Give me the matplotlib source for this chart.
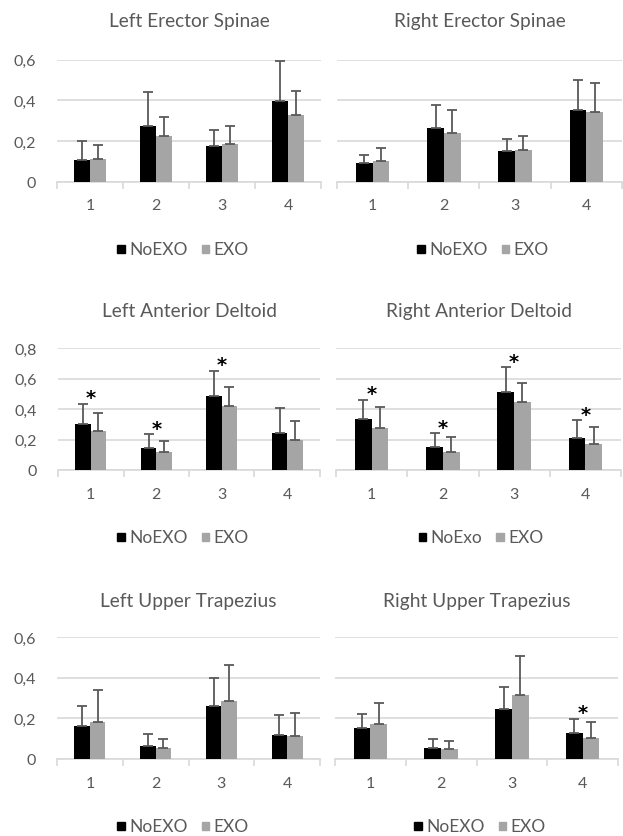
import matplotlib
matplotlib.use("Agg")
import matplotlib.pyplot as plt
from matplotlib.patches import Rectangle
import numpy as np

plt.rcParams['font.family'] = ['Lato', 'DejaVu Sans']

categories = ["1", "2", "3", "4"]

titles = ["Left Erector Spinae", "Right Erector Spinae",
          "Left Anterior Deltoid", "Right Anterior Deltoid",
          "Left Upper Trapezius", "Right Upper Trapezius"]

legend_names = [("NoEXO", "EXO"), ("NoEXO", "EXO"),
                ("NoEXO", "EXO"), ("NoExo", "EXO"),
                ("NoEXO", "EXO"), ("NoEXO", "EXO")]

# mean values per condition
noexo_mean = [
    [0.108, 0.274, 0.174, 0.395],
    [0.090, 0.264, 0.152, 0.354],
    [0.304, 0.144, 0.485, 0.245],
    [0.332, 0.151, 0.509, 0.210],
    [0.164, 0.062, 0.262, 0.118],
    [0.152, 0.052, 0.248, 0.128],
]
exo_mean = [
    [0.113, 0.225, 0.184, 0.330],
    [0.103, 0.239, 0.154, 0.344],
    [0.258, 0.118, 0.420, 0.199],
    [0.278, 0.118, 0.446, 0.173],
    [0.182, 0.052, 0.287, 0.113],
    [0.174, 0.048, 0.313, 0.103],
]
# standard deviations (upper error bars)
noexo_sd = [
    [0.092, 0.167, 0.082, 0.198],
    [0.041, 0.111, 0.058, 0.144],
    [0.129, 0.090, 0.164, 0.164],
    [0.129, 0.089, 0.164, 0.116],
    [0.095, 0.059, 0.138, 0.097],
    [0.071, 0.046, 0.108, 0.070],
]
exo_sd = [
    [0.069, 0.093, 0.091, 0.118],
    [0.063, 0.112, 0.072, 0.141],
    [0.116, 0.072, 0.126, 0.122],
    [0.137, 0.096, 0.122, 0.109],
    [0.157, 0.048, 0.177, 0.112],
    [0.100, 0.041, 0.195, 0.077],
]
# significance markers per category
significant = [
    [0, 0, 0, 0],
    [0, 0, 0, 0],
    [1, 1, 1, 0],
    [1, 1, 1, 1],
    [0, 0, 0, 0],
    [0, 0, 0, 1],
]
y_max = [0.6, 0.6, 0.8, 0.8, 0.6, 0.6]
y_ticks = [[0, 0.2, 0.4, 0.6], [0, 0.2, 0.4, 0.6],
           [0, 0.2, 0.4, 0.6, 0.8], [0, 0.2, 0.4, 0.6, 0.8],
           [0, 0.2, 0.4, 0.6], [0, 0.2, 0.4, 0.6]]

W, H = 623, 837
fig = plt.figure(figsize=(W / 100, H / 100), dpi=100)
renderer = fig.canvas.get_renderer()

# plot-area boxes in pixels: (x0, x1, y_top, y_bottom)
boxes = [
    (57, 321, 60.7, 182.7), (337, 622, 60.7, 182.7),
    (58, 320, 349, 471), (336, 621, 349, 471),
    (57, 320, 638, 760), (335, 618, 638, 760),
]
title_y = [22, 22, 312, 312, 601, 601]
legend_y = [250, 250, 538, 538, 827, 827]
legend_cx = [183, 483, 183, 481, 183, 480]

TXT = "#595959"
GRID = "#d9d9d9"
BLACK = "#000000"
GRAY = "#a5a5a5"
ERR = "#595959"

bar_w = 0.235
x = np.arange(len(categories))


def px_width(t):
    return t.get_window_extent(renderer).width


for i in range(6):
    x0, x1, yt, yb = boxes[i]
    ax = fig.add_axes([x0 / W, 1 - yb / H, (x1 - x0) / W, (yb - yt) / H])
    ax.set_xlim(-0.5, len(categories) - 0.5)
    ax.set_ylim(0, y_max[i])
    ax.bar(x - bar_w / 2, noexo_mean[i], bar_w, color=BLACK, zorder=3)
    ax.bar(x + bar_w / 2, exo_mean[i], bar_w, color=GRAY, zorder=3)
    for xs, m, s in ((x - bar_w / 2, noexo_mean[i], noexo_sd[i]),
                     (x + bar_w / 2, exo_mean[i], exo_sd[i])):
        ax.errorbar(xs, m, yerr=[np.zeros(len(s)), s], fmt="none",
                    ecolor=ERR, elinewidth=1.3, capsize=3.6, capthick=1.3,
                    zorder=4)
    for k, flag in enumerate(significant[i]):
        if flag:
            top = max(noexo_mean[i][k] + noexo_sd[i][k],
                      exo_mean[i][k] + exo_sd[i][k])
            ax.annotate("*", (x[k], top), xytext=(0, 0.5),
                        textcoords="offset points", ha="center",
                        va="baseline", fontsize=14, fontweight="bold",
                        color=BLACK, family=["DejaVu Sans"], zorder=5)

    ax.set_yticks(y_ticks[i])
    ax.yaxis.grid(True, color=GRID, linewidth=1.2, zorder=0)
    ax.set_axisbelow(True)
    for side in ("top", "right", "left"):
        ax.spines[side].set_visible(False)
    ax.spines["bottom"].set_color(GRID)
    ax.spines["bottom"].set_linewidth(1.2)
    ax.spines["bottom"].set_zorder(2)
    if i % 2 == 0:
        ax.set_yticklabels([("%g" % v).replace(".", ",") for v in y_ticks[i]],
                           fontsize=11.5, color=TXT)
    else:
        ax.set_yticklabels([])
    ax.tick_params(axis="y", length=0, pad=15)
    # category labels centred, tick marks between categories
    ax.set_xticks(x)
    ax.set_xticklabels(categories, fontsize=11.5, color=TXT)
    ax.tick_params(axis="x", which="major", length=0, pad=12)
    ax.set_xticks(np.arange(-0.5, len(categories)), minor=True)
    ax.tick_params(axis="x", which="minor", length=5, color=GRID, width=1.2)

    cx = (x0 + x1) / 2
    fig.text(cx / W, 1 - title_y[i] / H, titles[i], ha="center", va="center",
             fontsize=13.8, color=TXT)

    # legend: square swatches with labels, laid out from measured widths
    ly = 1 - legend_y[i] / H
    n1, n2 = legend_names[i]
    sq, gap, sep = 7.5, 4.5, 14
    t1 = fig.text(0, ly, n1, ha="left", va="center", fontsize=12.5, color=TXT)
    t2 = fig.text(0, ly, n2, ha="left", va="center", fontsize=12.5, color=TXT)
    w1, w2 = px_width(t1), px_width(t2)
    total = sq + gap + w1 + sep + sq + gap + w2
    lx = legend_cx[i] - total / 2
    fig.patches.append(Rectangle((lx / W, ly - sq / 2 / H), sq / W, sq / H,
                                 transform=fig.transFigure, color=BLACK))
    t1.set_x((lx + sq + gap) / W)
    lx2 = lx + sq + gap + w1 + sep
    fig.patches.append(Rectangle((lx2 / W, ly - sq / 2 / H), sq / W, sq / H,
                                 transform=fig.transFigure, color=GRAY))
    t2.set_x((lx2 + sq + gap) / W)

fig.savefig("out.png", dpi=100, facecolor="white")
